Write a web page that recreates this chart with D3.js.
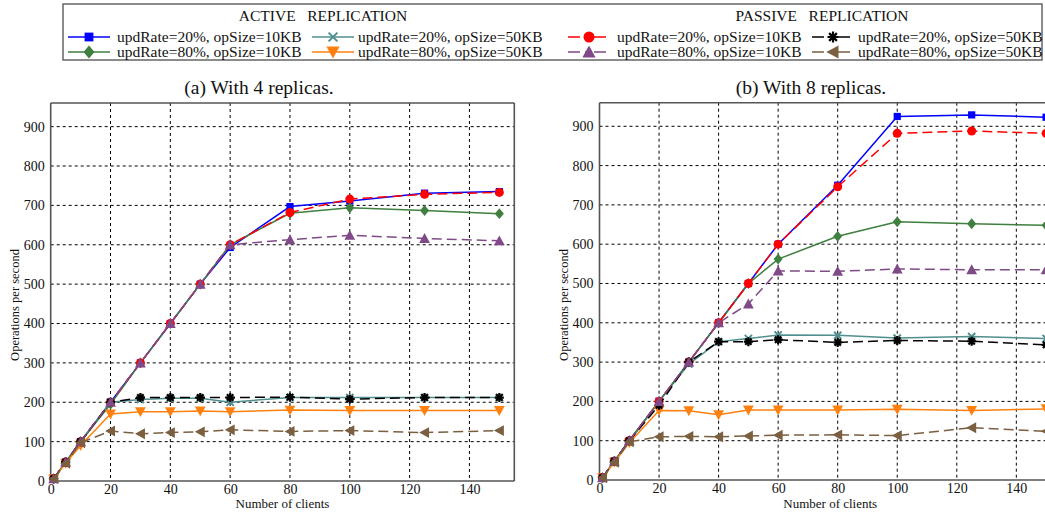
<!DOCTYPE html>
<html><head><meta charset="utf-8">
<script src="https://cdn.jsdelivr.net/npm/d3@7"></script>
<style>
body{margin:0;background:#fff}
svg{display:block;font-family:"Liberation Serif","Times New Roman",serif}
svg text{font-family:"Liberation Serif","Times New Roman",serif !important}
</style>
</head><body>
<svg id="c" width="1045" height="516"></svg>
<script>
// ---------------- data ----------------
const clients = [1, 5, 10, 20, 30, 40, 50, 60, 80, 100, 125, 150];
const xTicks = [0, 20, 40, 60, 80, 100, 120, 140];
const yTicks = [0, 100, 200, 300, 400, 500, 600, 700, 800, 900];
const panelTitles = ["(a) With 4 replicas.", "(b) With 8 replicas."];
const seriesLabels = [
  "updRate=20%, opSize=10KB", "updRate=20%, opSize=50KB",
  "updRate=80%, opSize=10KB", "updRate=80%, opSize=50KB"
];
const groupTitles = ["ACTIVE   REPLICATION", "PASSIVE   REPLICATION"];

// 4 replicas
const a_act_20_10 = [6, 48, 100, 200, 300, 400, 500, 593, 697, 711, 731, 735];
const a_act_20_50 = [6, 48, 98, 200, 207, 210, 210, 200, 212, 212, 212, 212];
const a_act_80_10 = [6, 48, 100, 195, 300, 400, 500, 600, 680, 694, 687, 679];
const a_act_80_50 = [6, 45, 90, 170, 176, 176, 178, 176, 180, 179, 179, 179];
const a_pas_20_10 = [6, 48, 100, 200, 300, 400, 500, 600, 682, 716, 728, 733];
const a_pas_20_50 = [6, 48, 100, 200, 212, 212, 212, 212, 213, 208, 212, 212];
const a_pas_80_10 = [6, 48, 100, 200, 300, 400, 500, 600, 613, 624, 616, 610];
const a_pas_80_50 = [6, 45, 97, 127, 120, 123, 125, 130, 126, 128, 123, 128];

// 8 replicas
const b_act_20_10 = [6, 48, 100, 200, 300, 400, 500, 600, 750, 925, 929, 923];
const b_act_20_50 = [6, 48, 98, 200, 295, 352, 360, 369, 368, 361, 365, 360];
const b_act_80_10 = [6, 48, 100, 200, 300, 400, 500, 562, 620, 657, 652, 648];
const b_act_80_50 = [6, 45, 95, 177, 176, 166, 178, 178, 178, 180, 177, 181];
const b_pas_20_10 = [6, 48, 100, 200, 300, 400, 500, 600, 746, 882, 888, 882];
const b_pas_20_50 = [6, 48, 100, 190, 300, 352, 352, 357, 350, 355, 353, 344];
const b_pas_80_10 = [6, 48, 100, 200, 300, 400, 448, 532, 531, 537, 535, 535];
const b_pas_80_50 = [6, 45, 97, 110, 111, 110, 112, 114, 115, 113, 133, 124];

// ---------------- styles ----------------
const styles = [
  {key:"act_20_10", color:"#0000ff", marker:"square",  dash:null},
  {key:"act_20_50", color:"#4f8f8f", marker:"x",       dash:null},
  {key:"act_80_10", color:"#3f7f3f", marker:"diamond", dash:null},
  {key:"act_80_50", color:"#ff800e", marker:"triDown", dash:null},
  {key:"pas_20_10", color:"#ff0000", marker:"circle",  dash:"10,5"},
  {key:"pas_20_50", color:"#000000", marker:"star",    dash:"10,5"},
  {key:"pas_80_10", color:"#7f4a87", marker:"triUp",   dash:"10,5"},
  {key:"pas_80_50", color:"#7a5f40", marker:"triLeft", dash:"10,5"}
];
const panelData = [
  [a_act_20_10, a_act_20_50, a_act_80_10, a_act_80_50, a_pas_20_10, a_pas_20_50, a_pas_80_10, a_pas_80_50],
  [b_act_20_10, b_act_20_50, b_act_80_10, b_act_80_50, b_pas_20_10, b_pas_20_50, b_pas_80_10, b_pas_80_50]
];

const FONT = '"Liberation Serif","Times New Roman",serif';
const svg = d3.select("#c");

function drawMarker(g, type, color, s) {
  s = s || 1;
  if (type === "square") {
    g.append("rect").attr("x", -4*s).attr("y", -4*s).attr("width", 8*s).attr("height", 8*s).attr("fill", color);
  } else if (type === "circle") {
    g.append("circle").attr("r", 5*s).attr("fill", color);
  } else if (type === "diamond") {
    g.append("path").attr("d", `M0,${-6*s}L${5*s},0L0,${6*s}L${-5*s},0Z`).attr("fill", color);
  } else if (type === "triDown") {
    g.append("path").attr("d", `M${-6*s},${-5*s}L${6*s},${-5*s}L0,${6*s}Z`).attr("fill", color);
  } else if (type === "triUp") {
    g.append("path").attr("d", `M0,${-6*s}L${6*s},${5*s}L${-6*s},${5*s}Z`).attr("fill", color);
  } else if (type === "triLeft") {
    g.append("path").attr("d", `M${-6*s},0L${5*s},${-6*s}L${5*s},${6*s}Z`).attr("fill", color);
  } else if (type === "x") {
    const r = 4*s;
    g.append("path").attr("d", `M${-r},${-r}L${r},${r}M${-r},${r}L${r},${-r}`)
      .attr("stroke", color).attr("stroke-width", 2).attr("fill", "none");
  } else if (type === "star") {
    const r = 5*s; let d = "";
    for (let i = 0; i < 4; i++) {
      const a = i * Math.PI / 4;
      d += `M${-r*Math.cos(a)},${-r*Math.sin(a)}L${r*Math.cos(a)},${r*Math.sin(a)}`;
    }
    g.append("path").attr("d", d).attr("stroke", color).attr("stroke-width", 2.2).attr("fill", "none");
  }
}

// ---------------- panels ----------------
const panels = [
  {left: 50.7, right: 514.3, top: 103, bottom: 481, titleX: 259, ylabX: 15, rightFrame: true},
  {left: 599.5, right: 1061, top: 102.7, bottom: 480, titleX: 811, ylabX: 564, rightFrame: false}
];

panels.forEach((p, pi) => {
  const x = d3.scaleLinear().domain([0, 155]).range([p.left, p.right]);
  const y = d3.scaleLinear().domain([0, 960]).range([p.bottom, p.top]);
  const g = svg.append("g");

  // grid
  g.selectAll(".vg").data(xTicks.filter(t => t > 0)).join("line")
    .attr("x1", d => x(d)).attr("x2", d => x(d)).attr("y1", p.top).attr("y2", p.bottom)
    .attr("stroke", "#000").attr("stroke-width", 1).attr("stroke-dasharray", "3,3");
  g.selectAll(".hg").data(yTicks.filter(t => t > 0)).join("line")
    .attr("y1", d => y(d)).attr("y2", d => y(d)).attr("x1", p.left).attr("x2", p.right)
    .attr("stroke", "#000").attr("stroke-width", 1).attr("stroke-dasharray", "3,3");

  // axes via d3 axis (labels only)
  const xa = g.append("g").attr("transform", `translate(0,${p.bottom})`)
    .call(d3.axisBottom(x).tickValues(xTicks).tickSize(0).tickPadding(3));
  const ya = g.append("g").attr("transform", `translate(${p.left},0)`)
    .call(d3.axisLeft(y).tickValues(yTicks).tickSize(0).tickPadding(6));
  [xa, ya].forEach(a => {
    a.attr("font-family", null).attr("font-size", null);
    a.select(".domain").remove();
    a.selectAll("text").style("font-family", FONT).style("font-size", "14px").attr("fill", "#111");
  });

  // frame
  const fr = g.append("g").attr("stroke", "#555").attr("stroke-width", 1.6).attr("fill", "none");
  fr.append("line").attr("x1", p.left).attr("x2", p.left).attr("y1", p.top).attr("y2", p.bottom);
  fr.append("line").attr("x1", p.left).attr("x2", p.right).attr("y1", p.bottom).attr("y2", p.bottom);
  fr.append("line").attr("x1", p.left).attr("x2", p.right).attr("y1", p.top).attr("y2", p.top);
  if (p.rightFrame) fr.append("line").attr("x1", p.right).attr("x2", p.right).attr("y1", p.top).attr("y2", p.bottom);

  // series
  const line = d3.line().x((d, i) => x(clients[i])).y(d => y(d));
  panelData[pi].forEach((vals, si) => {
    const st = styles[si];
    g.append("path").datum(vals).attr("d", line)
      .attr("fill", "none").attr("stroke", st.color).attr("stroke-width", 1.5)
      .attr("stroke-dasharray", st.dash);
    vals.forEach((v, i) => {
      const mg = g.append("g").attr("transform", `translate(${x(clients[i])},${y(v)})`);
      drawMarker(mg, st.marker, st.color, 0.9);
    });
  });

  // labels
  svg.append("text").attr("x", p.titleX).attr("y", 94).attr("text-anchor", "middle")
    .style("font-size", "19.5px").attr("fill", "#111").text(panelTitles[pi]);
  svg.append("text").attr("x", (p.left + p.right) / 2).attr("y", 508).attr("text-anchor", "middle")
    .style("font-size", "13px").attr("fill", "#111").text("Number of clients");
  svg.append("text").attr("transform", `translate(${p.ylabX + 4},305) rotate(-90)`)
    .attr("text-anchor", "middle").style("font-size", "12.5px").attr("fill", "#111").text("Operations per second");
});

// ---------------- legend ----------------
const lg = svg.append("g");
lg.append("rect").attr("x", 63).attr("y", 4).attr("width", 979).attr("height", 56)
  .attr("fill", "#fff").attr("stroke", "#666").attr("stroke-width", 1.5);
const groupCenters = [323, 822];
groupCenters.forEach((cx, gi) => {
  lg.append("text").attr("x", cx).attr("y", 21).attr("text-anchor", "middle")
    .style("font-size", "15.5px").style("white-space", "pre").attr("xml:space", "preserve")
    .attr("fill", "#111").text(groupTitles[gi]);
});
const legendCols = [
  {lx: 68, tx: 117}, {lx: 312, tx: 358}, {lx: 568, tx: 617}, {lx: 812, tx: 858}
];
const rowsY = [37, 52];
const legendOrder = [
  {si: 0, col: 0, row: 0}, {si: 1, col: 1, row: 0}, {si: 2, col: 0, row: 1}, {si: 3, col: 1, row: 1},
  {si: 4, col: 2, row: 0}, {si: 5, col: 3, row: 0}, {si: 6, col: 2, row: 1}, {si: 7, col: 3, row: 1}
];
legendOrder.forEach(e => {
  const st = styles[e.si];
  const c = legendCols[e.col];
  const yy = rowsY[e.row];
  const x2 = c.lx + 42;
  lg.append("line").attr("x1", c.lx).attr("x2", x2).attr("y1", yy).attr("y2", yy)
    .attr("stroke", st.color).attr("stroke-width", 1.5).attr("stroke-dasharray", st.dash ? "12,5,4,5" : null);
  const mg = lg.append("g").attr("transform", `translate(${(c.lx + x2) / 2},${yy})`);
  drawMarker(mg, st.marker, st.color, 1.1);
  lg.append("text").attr("x", c.tx).attr("y", yy + 5).style("font-size", "15.5px").attr("fill", "#111")
    .text(seriesLabels[e.si % 4]);
});
</script>
</body></html>
